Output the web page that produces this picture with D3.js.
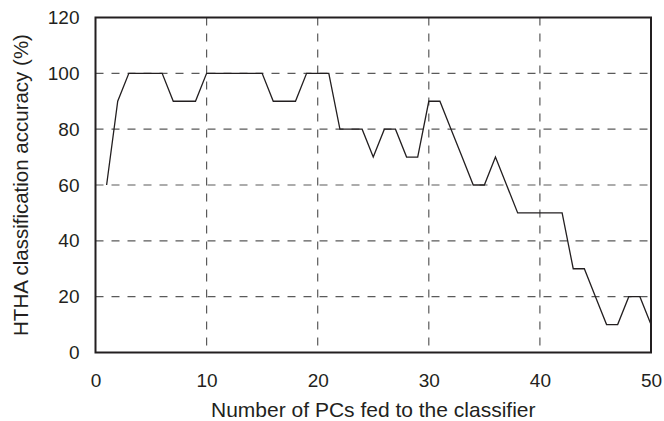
<!DOCTYPE html>
<html>
<head>
<meta charset="utf-8">
<script src="https://cdn.jsdelivr.net/npm/d3@7"></script>
<style>
  body { margin: 0; background: #fff; }
  svg { display: block; }
  text { font-family: "Liberation Sans", Arial, sans-serif; fill: #231f20; }
</style>
</head>
<body>
<svg id="chart"></svg>
<script>
// number of PCs and the accuracy
var pcs = d3.range(1, 51);
var accuracy = [60, 90, 100, 100, 100, 100, 90, 90, 90, 100,
                100, 100, 100, 100, 100, 90, 90, 90, 100, 100,
                100, 80, 80, 80, 70, 80, 80, 70, 70, 90,
                90, 80, 70, 60, 60, 70, 60, 50, 50, 50,
                50, 50, 30, 30, 20, 10, 10, 20, 20, 10];
var xTicks = [0, 10, 20, 30, 40, 50];
var yTicks = [0, 20, 40, 60, 80, 100, 120];

var width = 664, height = 421;
var margin = {top: 17.5, right: 13, bottom: 68.5, left: 95.5};
var w = width - margin.left - margin.right,
    h = height - margin.top - margin.bottom;

var svg = d3.select("#chart")
    .attr("width", width)
    .attr("height", height);

var g = svg.append("g")
    .attr("transform", "translate(" + margin.left + "," + margin.top + ")");

var x = d3.scaleLinear().domain([0, 50]).range([0, w]);
var y = d3.scaleLinear().domain([0, 120]).range([h, 0]);

// dashed grid
g.selectAll(".vgrid")
    .data(xTicks.slice(1, -1))
    .enter()
    .append("line")
    .attr("class", "vgrid")
    .attr("x1", d => x(d)).attr("x2", d => x(d))
    .attr("y1", 0).attr("y2", h)
    .attr("stroke", "#5a5a5a")
    .attr("stroke-width", 1.2)
    .attr("stroke-dasharray", "8,8");

g.selectAll(".hgrid")
    .data(yTicks.slice(1, -1))
    .enter()
    .append("line")
    .attr("class", "hgrid")
    .attr("x1", 0).attr("x2", w)
    .attr("y1", d => y(d)).attr("y2", d => y(d))
    .attr("stroke", "#5a5a5a")
    .attr("stroke-width", 1.2)
    .attr("stroke-dasharray", "8,8");

// data line
var line = d3.line()
    .x((d, i) => x(pcs[i]))
    .y(d => y(d));

g.append("path")
    .datum(accuracy)
    .attr("d", line)
    .attr("fill", "none")
    .attr("stroke", "#231f20")
    .attr("stroke-width", 1.3);

// frame
g.append("rect")
    .attr("x", 0).attr("y", 0)
    .attr("width", w).attr("height", h)
    .attr("fill", "none")
    .attr("stroke", "#231f20")
    .attr("stroke-width", 2);

// axes (labels only, ticks hidden)
var xAxis = g.append("g")
    .attr("transform", "translate(0," + h + ")")
    .call(d3.axisBottom(x).tickValues(xTicks).tickSize(0).tickPadding(21));
var yAxis = g.append("g")
    .call(d3.axisLeft(y).tickValues(yTicks).tickSize(0).tickPadding(16));

[xAxis, yAxis].forEach(function(a){
    a.select(".domain").remove();
    a.selectAll("text")
        .attr("font-size", "19px")
        .attr("font-family", "'Liberation Sans', Arial, sans-serif")
        .attr("fill", "#231f20");
});

// axis titles
svg.append("text")
    .attr("x", margin.left + w / 2)
    .attr("y", 417)
    .attr("text-anchor", "middle")
    .attr("font-size", "21px")
    .text("Number of PCs fed to the classifier");

svg.append("text")
    .attr("transform", "translate(28," + (margin.top + h / 2) + ") rotate(-90)")
    .attr("text-anchor", "middle")
    .attr("font-size", "20.5px")
    .text("HTHA classification accuracy (%)");
</script>
</body>
</html>
